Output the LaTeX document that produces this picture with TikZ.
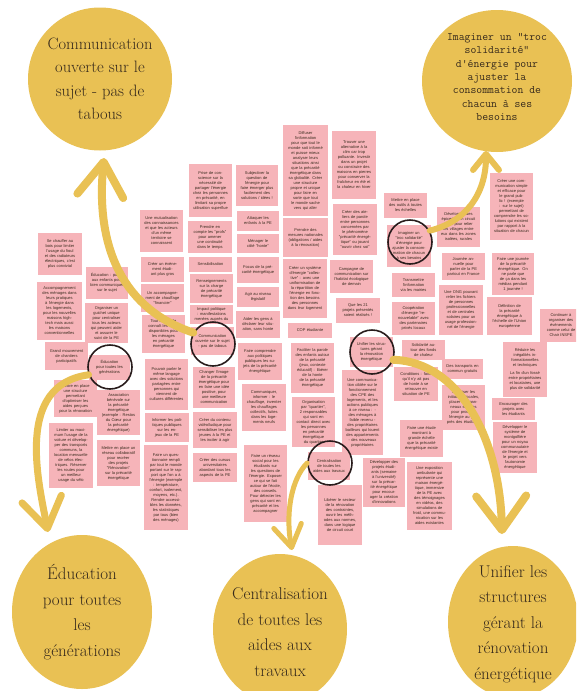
\documentclass[tikz,border=0pt]{standalone}
\usepackage{fontspec}
\usepackage{tikz}
\usetikzlibrary{arrows.meta,shapes.geometric}
\newfontfamily\notefont{Liberation Sans}
\definecolor{gold}{RGB}{233,193,84}
\definecolor{postit}{RGB}{246,180,185}
\definecolor{ink}{RGB}{55,42,28}
\definecolor{ringc}{RGB}{40,28,28}
\newcommand{\bigfont}{\fontsize{17}{25.5}\selectfont}
\newcommand{\commfont}{\fontsize{16.5}{23.5}\selectfont}
\newcommand{\trocfont}{\ttfamily\fontsize{11.4}{13.4}\selectfont}
\newcommand{\notesize}{\notefont\fontsize{4}{5}\selectfont}

\begin{document}
\begin{tikzpicture}[x=1pt,y=-1pt,
    note/.style={fill=postit, inner sep=1pt, text width=35pt, align=center, font=\notesize, text=ink},
    ring/.style={circle, draw=ringc, line width=1.6pt, minimum size=44pt, inner sep=0pt},
    bigdisc/.style={ellipse, fill=gold, inner sep=0pt},
    bigtext/.style={align=center, text=ink, font=\bigfont},
    brush/.style={draw=gold, line cap=round}]
    \useasboundingbox (0,0) rectangle (576,691);
    \clip (0,0) rectangle (576,691);
    \fill[white] (0,0) rectangle (576,691);

    % the five ideas
    \node[bigdisc, minimum width=144pt, minimum height=143pt] (bigComm) at (100,79) {};
    \node[bigdisc, minimum width=150pt, minimum height=142pt] (bigTroc) at (497,81) {};
    \node[bigdisc, minimum width=140pt, minimum height=154pt] (bigEdu) at (82,612) {};
    \node[bigdisc, minimum width=134pt, minimum height=150pt] (bigCent) at (280,629) {};
    \node[bigdisc, minimum width=130pt, minimum height=152pt] (bigUnif) at (513,622) {};
    \node[bigtext, font=\commfont] (tComm) at (bigComm) {Communication\\ouverte sur le\\sujet - pas de\\tabous};
    \node[bigtext, font=\trocfont] (tTroc) at (497,77) {Imaginer un "troc\\solidarité"\\d'énergie pour\\ajuster la\\consommation de\\chacun à ses\\besoins};
    \node[bigtext] (tEdu) at (bigEdu) {Éducation\\pour toutes\\les\\générations};
    \node[bigtext] (tCent) at (280,632) {Centralisation\\de toutes les\\aides aux\\travaux};
    \node[bigtext] (tUnif) at (513,624) {Unifier les\\structures\\gérant la\\rénovation\\énergétique};

    % post-its, left part
    \node[note, minimum width=44pt, minimum height=42pt] (n01) at (60,254) {Se chauffer au bois pour limiter l'usage du fioul et des radiateurs électriques, c'est plus convivial};
    \node[note, minimum width=42pt, minimum height=32pt] (n02) at (107,283) {Éducation : parler aux enfants pour bien communiquer sur le sujet};
    \node[note, minimum width=45pt, minimum height=58pt] (n03) at (59.5,311) {Accompagnement des ménages dans leurs pratiques à l'énergie dans les logements, pour les nouvelles maisons high-tech mais aussi les maisons conventionnelles};
    \node[note, minimum width=43pt, minimum height=40pt] (n04) at (106.5,323) {Organiser un guichet unique pour centraliser tous les acteurs qui peuvent aider et assurer le suivi de la PE};
    \node[note, minimum width=43pt, minimum height=28pt] (n05) at (66.5,356) {Grand mouvement de chantiers participatifs};
    \node[note, minimum width=41pt, minimum height=25pt] (n06) at (109.5,367.5) {Éducation pour toutes les générations};
    \node[note, minimum width=43pt, minimum height=37pt] (n07) at (75.5,398.5) {Mettre en place une structure permettant d'optimiser les aides perçues pour la rénovation};
    \node[note, minimum width=43pt, minimum height=45pt] (n08) at (118.5,412.5) {Association bénévole sur la précarité énergétique (exemple : Restos du Cœur pour la précarité énergétique)};
    \node[note, minimum width=44pt, minimum height=65pt] (n09) at (71,455.5) {Limiter au maximum l'usage de la voiture et développer des transports communs, la location mensuelle de vélos électriques. Réserver les routes pour un meilleur usage du vélo};
    \node[note, minimum width=43pt, minimum height=46pt] (n10) at (118.5,463) {Mettre en place un réseau collaboratif pour recréer des projets "Rénovation" sur la précarité énergétique};
    \node[note, minimum width=43pt, minimum height=42pt] (n11) at (161.5,231) {Une mutualisation des connaissances et que les acteurs d'un même territoire se connaissent};
    \node[note, minimum width=43pt, minimum height=25pt] (n12) at (162.5,269.5) {Créer un évènement étudiant plus gros};
    \node[note, minimum width=43pt, minimum height=28pt] (n13) at (162.5,298) {Un accompagnement de chauffage "financier"};
    \node[note, minimum width=43pt, minimum height=38pt] (n14) at (163.5,334) {Tout le monde connaît les aides disponibles pour les ménages en précarité énergétique};
    \node[note, minimum width=43pt, minimum height=51pt] (n15) at (166.5,384.5) {Pouvoir parler le même langage avec des solutions partagées entre personnes qui viennent de cultures différentes};
    \node[note, minimum width=44pt, minimum height=29pt] (n16) at (167,427.5) {Informer les politiques publiques sur les enjeux de la PE};
    \node[note, minimum width=44pt, minimum height=85pt] (n17) at (166,487.5) {Faire un questionnaire rempli par tout le monde portant sur le rapport que l'on a à l'énergie (exemple : température, confort, isolement, moyens, etc.). Rendre accessibles les données, les statistiques par tous (bien des ménages)};

    % post-its, middle part
    \node[note, minimum width=43pt, minimum height=53pt] (n18) at (210.5,190.5) {Prise de conscience sur la nécessité de partager l'énergie chez les personnes en précarité, en limitant sa propre utilisation superflue};
    \node[note, minimum width=42pt, minimum height=41pt] (n19) at (257,185.5) {Subjectiver la question de l'énergie pour faire émerger plus facilement des solutions / idées !};
    \node[note, minimum width=44pt, minimum height=32pt] (n20) at (210,237) {Prendre en compte les "profs" pour amener une continuité dans le temps};
    \node[note, minimum width=42pt, minimum height=20pt] (n21) at (258,221) {Attaquer les enfants à la PE};
    \node[note, minimum width=42pt, minimum height=19pt] (n22) at (258,243.5) {Ménager le côté "honte"};
    \node[note, minimum width=43pt, minimum height=15pt] (n23) at (210.5,264.5) {Sensibilisation};
    \node[note, minimum width=42pt, minimum height=26pt] (n24) at (258,270) {Focus de la précarité énergétique};
    \node[note, minimum width=43pt, minimum height=29pt] (n25) at (211.5,288.5) {Renseignements sur la charge de précarité énergétique};
    \node[note, minimum width=42pt, minimum height=20pt] (n26) at (258,297) {Agir au niveau législatif};
    \node[note, minimum width=43pt, minimum height=19pt] (n27) at (211.5,314.5) {Impact politique : manifestations menées auprès du};
    \node[note, minimum width=44pt, minimum height=27pt] (n28) at (258,324.5) {Aider les gens à déclarer leur situation, sans honte};
    \node[note, minimum width=43pt, minimum height=28pt] (n29) at (212.5,341) {Communication ouverte sur le sujet - pas de tabous};
    \node[note, minimum width=42pt, minimum height=41pt] (n30) at (214,387.5) {Changer l'image de la précarité énergétique pour en faire une idée positive, pour une meilleure communication};
    \node[note, minimum width=44pt, minimum height=36pt] (n31) at (215,430) {Créer du contenu vidéo/ludique pour sensibiliser les plus jeunes à la PE et les inciter à agir};
    \node[note, minimum width=44pt, minimum height=29pt] (n32) at (215,467.5) {Créer des cursus universitaires abordant tous les aspects de la PE};
    \node[note, minimum width=44pt, minimum height=37pt] (n33) at (260,361.5) {Faire comprendre aux politiques publiques les sujets de la précarité énergétique};
    \node[note, minimum width=44pt, minimum height=47pt] (n34) at (264,407.5) {Communiquer, informer : le chauffage, inventer les chauffages collectifs, fuites dans les logements neufs};
    \node[note, minimum width=43pt, minimum height=77pt] (n35) at (265.5,483.5) {Faire un réseau social pour les étudiants sur les questions de l'énergie. Exposer ce qui se fait autour de l'école, des conseils. Pour détecter les gens qui sont en précarité et les accompagner};
    \node[note, minimum width=45pt, minimum height=91pt] (n36) at (305.5,170.5) {Diffuser l'information pour que tout le monde soit informé et puisse mieux analyser leurs situations ainsi que la précarité énergétique dans sa globalité. Créer une structure propre et unique pour faire en sorte que tout le monde sache vers qui aller};
    \node[note, minimum width=44pt, minimum height=68pt] (n37) at (354,165) {Trouver une alternative à la clim car trop polluante. Investir dans un projet ou construire des maisons en pierres pour conserver la fraîcheur en été et la chaleur en hiver};
    \node[note, minimum width=45pt, minimum height=39pt] (n38) at (305.5,237.5) {Prendre des mesures nationales (obligations / aides à la rénovation)};
    \node[note, minimum width=44pt, minimum height=51pt] (n39) at (355,229.5) {Créer des ateliers de parole entre personnes concernées par le phénomène "précarité énergétique" ou jouant "ouvrir chez soi"};
    \node[note, minimum width=44pt, minimum height=59pt] (n40) at (305,288.5) {Créer un système d'énergie "collective" : avec une uniformisation de la répartition de l'énergie en fonction des besoins des personnes dans leur logement};
    \node[note, minimum width=43pt, minimum height=33pt] (n41) at (351.5,276.5) {Campagne de communication sur l'habitat écologique de demain};
    \node[note, minimum width=44pt, minimum height=25pt] (n42) at (358,310.5) {Que les 21 projets présentés soient réalisés !};
    \node[note, minimum width=44pt, minimum height=15pt] (n43) at (310,330.5) {COP étudiante};
    \node[note, minimum width=43pt, minimum height=50pt] (n44) at (312.5,368) {Faciliter la parole des enfants autour de la précarité (jeux, contexte éducatif) : libérer de la honte de la précarité énergétique};
    \node[note, minimum width=43pt, minimum height=50pt] (n45) at (313.5,422) {Organisation par "quartier", 2 responsables qui sont en contact direct avec les personnes en précarité énergétique du quartier};
    \node[note, minimum width=42pt, minimum height=28pt] (n46) at (329,466) {Centralisation de toutes les aides aux travaux};
    \node[note, minimum width=44pt, minimum height=60pt] (n47) at (340,515) {Libérer le secteur de la rénovation des contraintes, ouvrir les méthodes aux normes, dans une logique de circuit court};

    % post-its, right part
    \node[note, minimum width=42pt, minimum height=49pt] (n48) at (384,482.5) {Développer des projets étudiants (semaine à l'université) sur la précarité énergétique pour encourager la création d'innovations};
    \node[note, minimum width=45pt, minimum height=68pt] (n49) at (429.5,496) {Une exposition ambulante qui représente une maison énergétique, immersive de la PE avec des témoignages en vidéos, des simulations de froid, une communication sur les aides existantes};
    \node[note, minimum width=43pt, minimum height=37pt] (n50) at (421.5,438.5) {Faire une étude montrant à grande échelle que la précarité énergétique existe};
    \node[note, minimum width=44pt, minimum height=34pt] (n51) at (416,384) {Conditions : faire qu'il n'y ait pas de honte à se retrouver en situation de PE};
    \node[note, minimum width=41pt, minimum height=20pt] (n52) at (462.5,369) {Des transports en commun gratuits};
    \node[note, minimum width=43pt, minimum height=45pt] (n53) at (463.5,407.5) {Favoriser les initiatives locales, placer des panneaux solaires pour produire l'énergie au plus près des étudiants};
    \node[note, minimum width=44pt, minimum height=55pt] (n54) at (525,369.5) {Réduire les inégalités informationnelles et techniques\\[3pt]La fin d'un fossé entre propriétaires et locataires, une plus de solidarité};
    \node[note, minimum width=43pt, minimum height=22pt] (n55) at (513.5,409) {Encourager des projets avec les étudiants};
    \node[note, minimum width=44pt, minimum height=51pt] (n56) at (515,447.5) {Développer le système de montgolfière pour un noyau communautaire de l'énergie et le projet vers l'autonomie énergétique};
    \node[note, minimum width=42pt, minimum height=33pt] (n57) at (561,325.5) {Continuer à organiser des évènements comme celui de Chair INSPE};
    \node[note, minimum width=45pt, minimum height=38pt] (n58) at (509.5,316) {Définition de la précarité énergétique à l'échelle de l'Union européenne};
    \node[note, minimum width=42pt, minimum height=42pt] (n59) at (513,274) {Faire une journée de la précarité énergétique. On ne parle que de ça dans les médias pendant 1 journée !};
    \node[note, minimum width=43pt, minimum height=67pt] (n60) at (511.5,206.5) {Créer une communication simple et efficace pour le grand public ! (exemple : sur le sujet) permettant de comprendre les solutions qui existent par rapport à la situation de chacun};
    \node[note, minimum width=43pt, minimum height=27pt] (n61) at (463.5,266.5) {Journée annuelle pour parler de la PE partout en France};
    \node[note, minimum width=44pt, minimum height=50pt] (n62) at (461,310) {Une ONG pouvant relier les fichiers de personnes professionnelles et de centrales solaires pour un usage professionnel de l'énergie};
    \node[note, minimum width=43pt, minimum height=40pt] (n63) at (458.5,227) {Développer des épiceries en circuit court pour relier les villages entre eux dans les zones isolées, rurales};
    \node[note, minimum width=43pt, minimum height=25pt] (n64) at (405.5,205.5) {Mettre en place des outils à toutes les échelles};
    \node[note, minimum width=44pt, minimum height=42pt] (n65) at (409,246) {Imaginer un "troc solidarité" d'énergie pour ajuster la consommation de chacun à ses besoins};
    \node[note, minimum width=43pt, minimum height=24pt] (n66) at (413.5,285) {Transmettre l'information via les mairies};
    \node[note, minimum width=43pt, minimum height=33pt] (n67) at (413.5,318.5) {Coopération d'énergie "renouvelable" avec des partenaires privés locaux};
    \node[note, minimum width=43pt, minimum height=20pt] (n68) at (423.5,350) {Solidarité autour des fonds de chaleur};
    \node[note, minimum width=43pt, minimum height=30pt] (n69) at (371.5,352) {Unifier les structures gérant la rénovation énergétique};
    \node[note, minimum width=41pt, minimum height=85pt] (n70) at (362.5,412.5) {Une communication ciblée sur le fonctionnement des CPE des logements, et les actions publiques à ce niveau : - des ménages à faible revenu - des propriétaires bailleurs qui louent des appartements - des nouveaux propriétaires};

    % chosen post-its
    \node[ring] (rComm) at (213,344) {};
    \node[ring] (rTroc) at (410,242) {};
    \node[ring] (rEdu) at (110,367) {};
    \node[ring] (rCent) at (330,463) {};
    \node[ring] (rUnif) at (372,352) {};

    % arrows to the ideas
    \coordinate (tipComm) at (104,158);
    \coordinate (tipTroc) at (486,151);
    \coordinate (tipEdu) at (48,532);
    \coordinate (tipCent) at (292,550);
    \coordinate (tipUnif) at (502,534);
    \draw[brush, line width=8pt, -{Straight Barb[round,length=34pt,width=46pt]}]
      (rComm.150) .. controls (125,310) and (95,250) .. (tipComm);
    \draw[brush, line width=6pt, -{Straight Barb[round,length=16pt,width=26pt]}]
      (rTroc.30) .. controls (465,222) and (486,195) .. (tipTroc);
    \draw[brush, line width=7pt, -{Straight Barb[round,length=30pt,width=40pt]}]
      (rEdu.200) .. controls (15,385) and (38,480) .. (tipEdu);
    \draw[brush, line width=5pt, -{Straight Barb[round,length=22pt,width=28pt]}]
      (rCent.180) .. controls (292,478) and (285,512) .. (tipCent);
    \draw[brush, line width=8pt, -{Straight Barb[round,length=34pt,width=50pt]}]
      (rUnif.-20) .. controls (460,362) and (500,440) .. (tipUnif);
  \end{tikzpicture}
\end{document}
